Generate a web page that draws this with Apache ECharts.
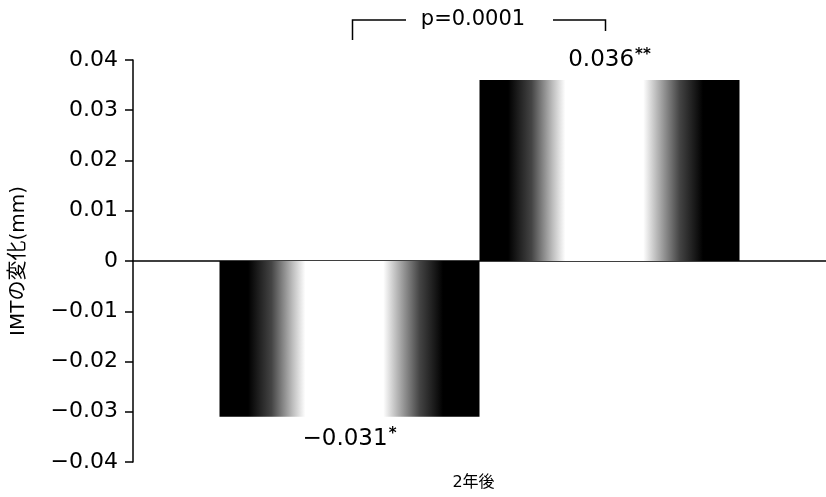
<!DOCTYPE html>
<html>
<head>
<meta charset="utf-8">
<script src="https://cdn.jsdelivr.net/npm/echarts@6/dist/echarts.min.js"></script>
<style>
html,body{margin:0;padding:0;background:#fff;}
#c{width:826px;height:497px;}
</style>
</head>
<body>
<div id="c"></div>
<script>
const categories = ['2年後'];
const seriesNames = ['A', 'B'];
const valuesA = [-0.031];
const valuesB = [0.036];
const valueLabelsA = ['−0.031'];
const valueLabelsB = ['0.036'];
const starsA = ['*'];
const starsB = ['**'];
const yTicks = [-0.04, -0.03, -0.02, -0.01, 0, 0.01, 0.02, 0.03, 0.04];
const pText = 'p=0.0001';
const yName = 'IMTの変化(mm)';

const FONT = '"DejaVu Sans", "Noto Sans CJK JP", sans-serif';

const grad = new echarts.graphic.LinearGradient(0, 0, 1, 0, [
  {offset: 0, color: '#000'},
  {offset: 0.11, color: '#000'},
  {offset: 0.2, color: '#444'},
  {offset: 0.28, color: '#bbb'},
  {offset: 0.33, color: '#fff'},
  {offset: 0.63, color: '#fff'},
  {offset: 0.68, color: '#bbb'},
  {offset: 0.77, color: '#444'},
  {offset: 0.86, color: '#000'},
  {offset: 1, color: '#000'}
]);

function fmtTick(v) {
  if (Math.abs(v) < 1e-9) return '0';
  return (v < 0 ? '−' : '') + Math.abs(v).toFixed(2);
}

const rich = {
  v: {fontFamily: FONT, fontSize: 23, color: '#000'},
  s: {fontFamily: FONT, fontSize: 15, fontWeight: 'bold', color: '#000', verticalAlign: 'top', padding: [0, 0, 9, 1]}
};

const chart = echarts.init(document.getElementById('c'), null, {renderer: 'canvas'});
chart.setOption({
  animation: false,
  backgroundColor: '#fff',
  grid: {left: 133, right: -7, top: 60, bottom: 35, containLabel: false},
  xAxis: [{
    type: 'category',
    data: categories,
    axisLine: {onZero: true, lineStyle: {color: '#000', width: 1.5}},
    axisTick: {show: false},
    axisLabel: {show: false},
    splitLine: {show: false}
  }, {
    type: 'category',
    data: categories,
    position: 'bottom',
    axisLine: {show: false, onZero: false},
    axisTick: {show: false},
    splitLine: {show: false},
    axisLabel: {show: true, margin: 13, fontFamily: FONT, fontSize: 16, color: '#000', padding: [0, 12, 0, 0]}
  }],
  yAxis: {
    type: 'value',
    min: yTicks[0],
    max: yTicks[yTicks.length - 1],
    interval: 0.01,
    name: yName,
    nameLocation: 'middle',
    nameGap: 104,
    nameTextStyle: {fontFamily: FONT, fontSize: 20, color: '#000'},
    axisLine: {show: true, lineStyle: {color: '#000', width: 1.5}},
    axisTick: {show: true, inside: false, length: 8, lineStyle: {color: '#000', width: 1.5}},
    axisLabel: {margin: 15, fontFamily: FONT, fontSize: 22, color: '#000', formatter: fmtTick},
    splitLine: {show: false}
  },
  series: [{
    name: seriesNames[0],
    type: 'bar',
    data: valuesA,
    barWidth: 260,
    barGap: '0%',
    itemStyle: {color: grad},
    label: {
      show: true, position: 'bottom', distance: 10,
      formatter: (p) => '{v|' + valueLabelsA[p.dataIndex] + '}{s|' + starsA[p.dataIndex] + '}',
      rich: rich
    }
  }, {
    name: seriesNames[1],
    type: 'bar',
    data: valuesB,
    barWidth: 260,
    barGap: '0%',
    itemStyle: {color: grad},
    label: {
      show: true, position: 'top', distance: 8,
      formatter: (p) => '{v|' + valueLabelsB[p.dataIndex] + '}{s|' + starsB[p.dataIndex] + '}',
      rich: rich
    }
  }]
});

// significance bracket positioned from bar centres
function drawBracket() {
  const model = chart.getModel();
  const sA = model.getSeriesByIndex(0).getData().getItemLayout(0);
  const sB = model.getSeriesByIndex(1).getData().getItemLayout(0);
  const xA = sA.x + sA.width / 2 + 3;
  const xB = sB.x + sB.width / 2 - 4;
  const yTop = 20;
  const mid = (xA + xB) / 2;
  const ls = {stroke: '#000', lineWidth: 1.5};
  chart.setOption({
    graphic: [
      {type: 'polyline', shape: {points: [[xA, 40], [xA, yTop], [mid - 73, yTop]]}, style: Object.assign({fill: null}, ls), silent: true},
      {type: 'polyline', shape: {points: [[mid + 74, yTop], [xB, yTop], [xB, 31]]}, style: Object.assign({fill: null}, ls), silent: true},
      {type: 'text', x: mid - 6, y: yTop, style: {text: pText, fontFamily: FONT, fontSize: 21, fill: '#000', align: 'center', verticalAlign: 'middle'}, silent: true}
    ]
  });
}
drawBracket();
</script>
</body>
</html>
